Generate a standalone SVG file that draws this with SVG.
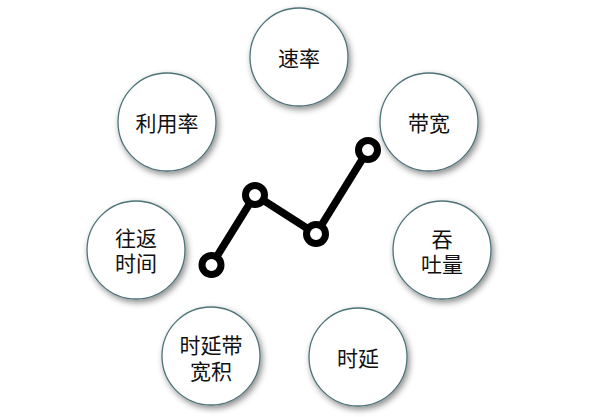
<svg xmlns="http://www.w3.org/2000/svg" width="599" height="417" viewBox="0 0 599 417">
<defs>
<filter id="sh" x="-30%" y="-30%" width="160%" height="160%">
<feDropShadow dx="2" dy="3" stdDeviation="3" flood-color="#000" flood-opacity="0.45"/>
</filter>
<style>
.n circle{fill:#fff;stroke:#4d7379;stroke-width:1.3;filter:url(#sh)}
.n text{font-family:"Noto Sans CJK SC","Microsoft YaHei",sans-serif;font-size:21px;fill:#111;text-anchor:middle;dominant-baseline:central}
.ln{fill:none;stroke:#000;stroke-width:7.5;stroke-linejoin:round}
.pt{fill:#fff;stroke:#000;stroke-width:7}
</style>
</defs>
<rect width="599" height="417" fill="#fff"/>
<g id="n-sulv" class="n"><circle cx="299" cy="57" r="49"/><text x="299" y="57">速率</text></g>
<g id="n-daikuan" class="n"><circle cx="429" cy="122" r="49"/><text x="429" y="122">带宽</text></g>
<g id="n-tuntu" class="n"><circle cx="442" cy="250" r="49"/><text><tspan x="442" y="238">吞</tspan><tspan x="442" y="263">吐量</tspan></text></g>
<g id="n-shiyan" class="n"><circle cx="358" cy="357" r="49"/><text x="358" y="357">时延</text></g>
<g id="n-syd" class="n"><circle cx="211" cy="356" r="49"/><text><tspan x="211" y="344">时延带</tspan><tspan x="211" y="370">宽积</tspan></text></g>
<g id="n-wangfan" class="n"><circle cx="136" cy="250" r="49"/><text><tspan x="136" y="237">往返</tspan><tspan x="136" y="262">时间</tspan></text></g>
<g id="n-liyong" class="n"><circle cx="167" cy="122" r="49"/><text x="167" y="122">利用率</text></g>
<g id="connectors">
<polyline class="ln" points="211.5,265 255,195 316,234 368,150"/>
<circle class="pt" cx="211.5" cy="265" r="9.5"/>
<circle class="pt" cx="255" cy="195" r="9.5"/>
<circle class="pt" cx="316" cy="234" r="9.5"/>
<circle class="pt" cx="368" cy="150" r="9.5"/>
</g>
</svg>
